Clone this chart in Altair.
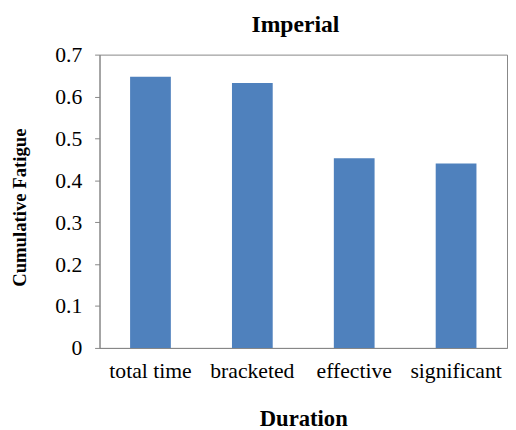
import altair as alt
import pandas as pd

categories = ["total time", "bracketed", "effective", "significant"]
values = [0.647, 0.632, 0.453, 0.440]

df = pd.DataFrame({"Duration": categories, "Fatigue": values})

FONT = "Liberation Serif"
AX = "#868686"

chart = alt.Chart(df).mark_bar(color="#4F81BD").encode(
    x=alt.X("Duration:N", sort=categories,
            scale=alt.Scale(paddingInner=0.6, paddingOuter=0.3),
            axis=alt.Axis(title="Duration", labelAngle=0, ticks=False,
                          labelPadding=13, titlePadding=27,
                          labelFontSize=22, titleFontSize=23,
                          labelFont=FONT, titleFont=FONT, titleFontWeight="bold",
                          labelColor="black", titleColor="black",
                          domainColor=AX, grid=False)),
    y=alt.Y("Fatigue:Q", scale=alt.Scale(domain=[0, 0.7], nice=False),
            axis=alt.Axis(title="Cumulative Fatigue", values=[0, 0.1, 0.2, 0.3, 0.4, 0.5, 0.6, 0.7],
                          format="~g", tickSize=5, labelPadding=13, titlePadding=26,
                          titleY=155,
                          labelFontSize=22, titleFontSize=19,
                          labelFont=FONT, titleFont=FONT, titleFontWeight="bold",
                          labelColor="black", titleColor="black",
                          domainColor=AX, tickColor=AX, grid=False)),
).properties(
    width=414,
    height=298,
    title=alt.TitleParams("Imperial", font=FONT, fontSize=24, fontWeight="bold",
                          color="black", dx=-8, offset=7),
    autosize=alt.AutoSizeParams(type="none"),
    padding={"left": 93, "top": 44, "right": 1, "bottom": 80},
).configure_view(stroke=AX)

chart.save("out.html", embed_options={"renderer": "svg", "actions": False})
